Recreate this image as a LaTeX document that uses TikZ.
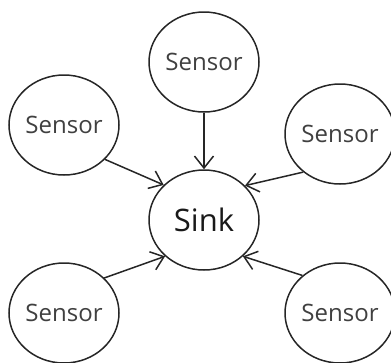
\documentclass[tikz,border=0pt]{standalone}
\usepackage{fontspec}
\setmainfont{Open Sans}
\usetikzlibrary{shapes.geometric,arrows.meta}
\tikzset{
  sensor/.style={ellipse,draw=black!85,line width=1.5pt,minimum width=110pt,minimum height=100pt,inner sep=0pt,
    font=\fontsize{24}{26}\selectfont,text=black!75},
  sink/.style={sensor,font=\fontsize{31}{33}\selectfont,text=black!90},
  link/.style={draw=black!85,line width=1.5pt,-{Straight Barb[length=12pt,width=19pt,line width=1.5pt]}}
}
\begin{document}
\begin{tikzpicture}[x=1pt,y=-1pt]
  \useasboundingbox (0,0) rectangle (391,362);
  \node[sink] (sink) at (204,220) {Sink};
  \node[sensor] (top) at (204,62) {Sensor};
  \node[sensor] (left) at (64,125) {Sensor};
  \node[sensor] (right) at (340,134) {Sensor};
  \node[sensor] (bleft) at (64,313) {Sensor};
  \node[sensor] (bright) at (340,313) {Sensor};
  \draw[link] (top.-90) -- (sink.90);
  \draw[link] (left.-40) -- (sink.139);
  \draw[link] (right.226) -- (sink.40);
  \draw[link] (bleft.41) -- (sink.223);
  \draw[link] (bright.135) -- (sink.-43);
\end{tikzpicture}
\end{document}
